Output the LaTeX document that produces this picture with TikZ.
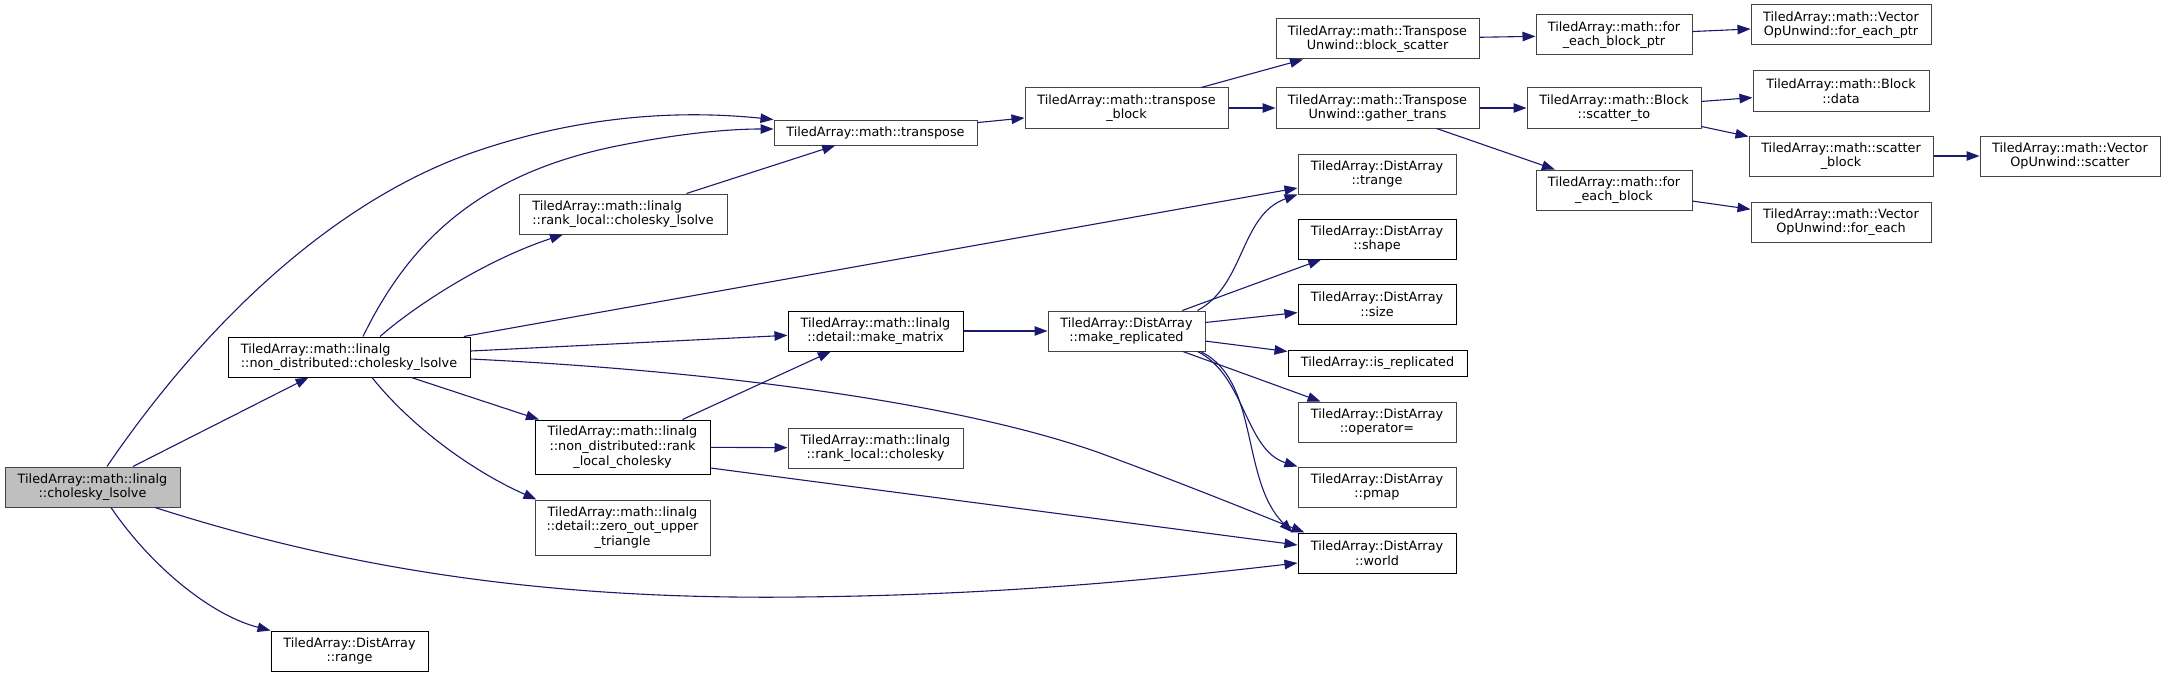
\documentclass[tikz,border=0pt]{standalone}
\usepackage{fontspec}
\setmainfont{DejaVu Sans}
\usetikzlibrary{arrows.meta}
\definecolor{edgeblue}{HTML}{191970}
\definecolor{boxgray}{HTML}{444444}
\definecolor{rootfill}{HTML}{BFBFBF}
\begin{document}
\begin{tikzpicture}[x=1pt,y=-1pt,
  nodebox/.style={draw, line width=1pt, fill=white, inner sep=0pt, align=center,
    font=\fontsize{12.8}{14.7}\selectfont, minimum height=40pt},
  gbox/.style={nodebox, draw=boxgray},
  bbox/.style={nodebox, draw=black},
  edge/.style={draw=edgeblue, line width=1.1pt, -{Triangle[length=13pt,width=9.5pt]}}]
\useasboundingbox (0,0) rectangle (2164,677);
\fill[white] (0,0) rectangle (2164,677);

% nodes
\node[gbox, fill=rootfill, minimum width=175pt] (root) at (92.5,487) {TiledArray::math::linalg\\::cholesky\_lsolve};
\node[bbox, align=left, minimum width=242pt] (ndchol) at (349,357) {TiledArray::math::linalg\\::non\_distributed::cholesky\_lsolve};
\node[bbox, minimum width=157pt] (range) at (349.5,651) {TiledArray::DistArray\\::range};
\node[gbox, minimum width=203pt, minimum height=25pt] (transpose) at (875.5,132.5) {TiledArray::math::transpose};
\node[gbox, align=left, minimum width=208pt] (rlchol) at (623,214) {TiledArray::math::linalg\\::rank\_local::cholesky\_lsolve};
\node[bbox, minimum width=175pt] (mmat) at (875.5,331) {TiledArray::math::linalg\\::detail::make\_matrix};
\node[bbox, minimum width=175pt, minimum height=54pt] (rlcholesky) at (622.5,447) {TiledArray::math::linalg\\::non\_distributed::rank\\\_local\_cholesky};
\node[gbox, minimum width=175pt] (rlc) at (875.5,448) {TiledArray::math::linalg\\::rank\_local::cholesky};
\node[gbox, minimum width=175pt, minimum height=55pt] (zero) at (622.5,527.5) {TiledArray::math::linalg\\::detail::zero\_out\_upper\\\_triangle};
\node[gbox, minimum width=203pt] (tblock) at (1126.5,108) {TiledArray::math::transpose\\\_block};
\node[gbox, minimum width=157pt] (mrep) at (1126.5,331) {TiledArray::DistArray\\::make\_replicated};
\node[gbox, minimum width=203pt] (bscat) at (1377.5,39) {TiledArray::math::Transpose\\Unwind::block\_scatter};
\node[gbox, minimum width=203pt] (gtrans) at (1377.5,108) {TiledArray::math::Transpose\\Unwind::gather\_trans};
\node[gbox, minimum width=158pt] (trange) at (1377,174) {TiledArray::DistArray\\::trange};
\node[bbox, minimum width=158pt] (shape) at (1377,239) {TiledArray::DistArray\\::shape};
\node[bbox, minimum width=158pt] (size) at (1377,304) {TiledArray::DistArray\\::size};
\node[bbox, minimum width=179pt, minimum height=26pt] (isrep) at (1377.5,363) {TiledArray::is\_replicated};
\node[gbox, minimum width=158pt] (opeq) at (1377,422) {TiledArray::DistArray\\::operator=};
\node[gbox, minimum width=158pt] (pmap) at (1377,487) {TiledArray::DistArray\\::pmap};
\node[bbox, minimum width=158pt] (world) at (1377,553) {TiledArray::DistArray\\::world};
\node[gbox, minimum width=156pt] (febp) at (1614,35) {TiledArray::math::for\\\_each\_block\_ptr};
\node[gbox, minimum width=174pt] (scatto) at (1614,108) {TiledArray::math::Block\\::scatter\_to};
\node[gbox, minimum width=156pt] (feb) at (1614,190) {TiledArray::math::for\\\_each\_block};
\node[gbox, minimum width=180pt] (vfep) at (1841,25) {TiledArray::math::Vector\\OpUnwind::for\_each\_ptr};
\node[gbox, minimum width=176pt] (bdata) at (1841,91) {TiledArray::math::Block\\::data};
\node[gbox, minimum width=184pt] (sblock) at (1841,156) {TiledArray::math::scatter\\\_block};
\node[gbox, minimum width=180pt] (vfe) at (1841,222) {TiledArray::math::Vector\\OpUnwind::for\_each};
\node[gbox, minimum width=180pt] (vscat) at (2070,156) {TiledArray::math::Vector\\OpUnwind::scatter};

% curved edges
\path[edge] ([xshift=14.5pt]root.north) .. controls (200,330) and (330,200) .. (480,150) .. controls (600,110) and (700,112) .. (transpose.north west);
\path[edge] ([xshift=14pt]ndchol.north) .. controls (410,240) and (480,175) .. (612,147) .. controls (680,133) and (730,129) .. ([yshift=3.5pt]transpose.west);
\path[edge] ([xshift=31pt]ndchol.north) .. controls (410,310) and (480,262) .. ([xshift=-60pt]rlchol.south);
\path[edge] ([yshift=-2pt]ndchol.east) .. controls (700,370) and (950,400) .. (1100,453) .. controls (1200,490) and (1260,515) .. ([xshift=7pt]world.north west);
\path[edge] ([xshift=23pt]ndchol.south) .. controls (410,425) and (470,470) .. ([xshift=2pt]zero.north west);
\path[edge] ([xshift=18.5pt]root.south) .. controls (150,565) and (210,615) .. (range.north west);
\path[edge] ([xshift=62.5pt]root.south) .. controls (350,570) and (550,600) .. (800,597) .. controls (1000,595) and (1150,580) .. ([yshift=-10pt]world.west);
\path[edge] ([xshift=-8pt]mrep.north east) .. controls (1245,285) and (1240,215) .. (trange.south west);
\path[edge] ([xshift=-8pt]mrep.south east) .. controls (1245,375) and (1245,450) .. (pmap.north west);
\path[edge] ([xshift=-5pt]mrep.south east) .. controls (1260,380) and (1240,480) .. ([xshift=-5pt]world.north west);

% straight edges
\path[edge] (root) -- (ndchol);
\path[edge] (ndchol) -- (rlcholesky);
\path[edge] (ndchol) -- (trange);
\path[edge] (ndchol) -- (mmat);
\path[edge] (rlchol) -- (transpose);
\path[edge] (rlcholesky) -- (mmat);
\path[edge] (rlcholesky) -- (rlc);
\path[edge] ([yshift=-21pt]rlcholesky.east) -- ([yshift=8pt]world.west);
\path[edge] (mmat) -- (mrep);
\path[edge] (mrep) -- (shape);
\path[edge] (mrep) -- (size);
\path[edge] (mrep) -- (isrep);
\path[edge] (mrep) -- (opeq);
\path[edge] (transpose) -- (tblock);
\path[edge] (tblock) -- (bscat);
\path[edge] (tblock) -- (gtrans);
\path[edge] (bscat) -- (febp);
\path[edge] (febp) -- (vfep);
\path[edge] (gtrans) -- (scatto);
\path[edge] (gtrans) -- (feb);
\path[edge] (scatto) -- (bdata);
\path[edge] (scatto) -- (sblock);
\path[edge] (sblock) -- (vscat);
\path[edge] (feb) -- (vfe);
\end{tikzpicture}
\end{document}
